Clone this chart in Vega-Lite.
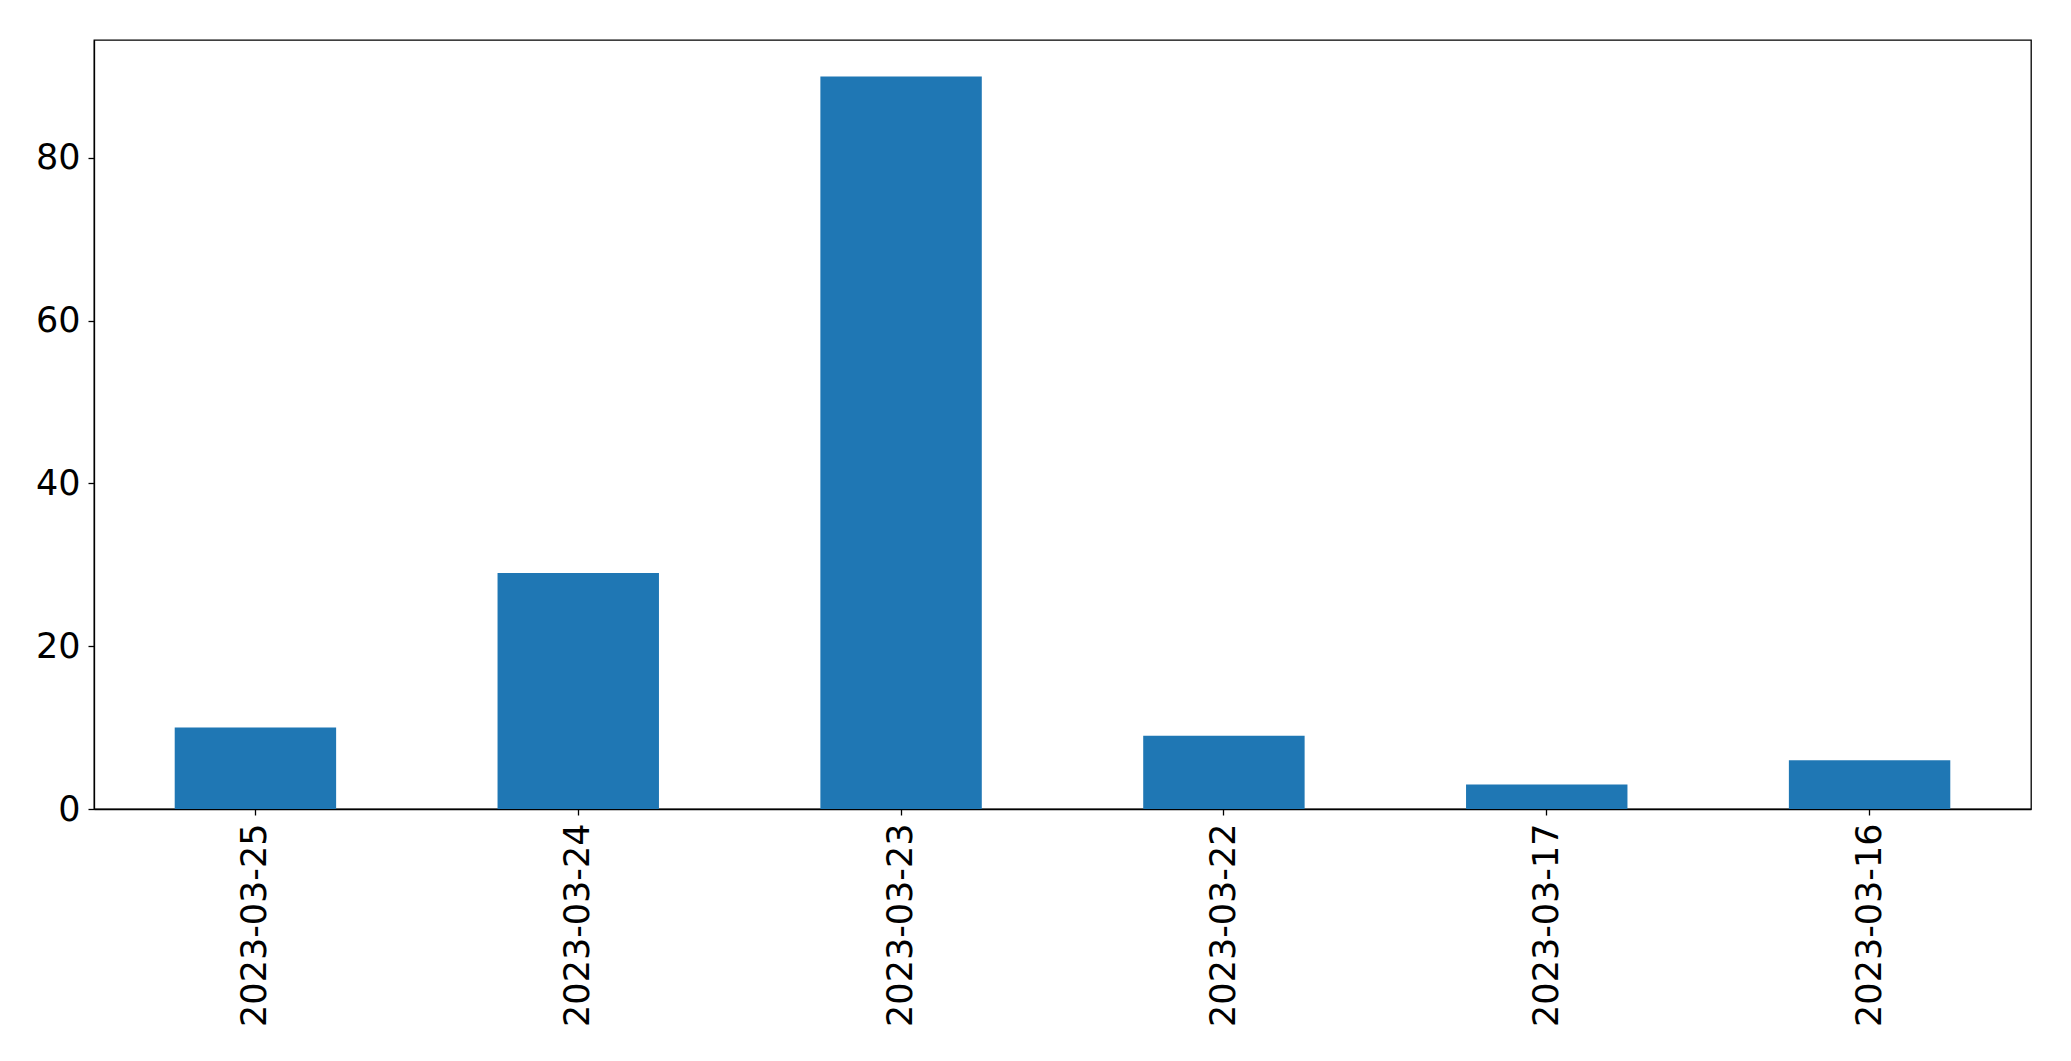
{
  "$schema": "https://vega.github.io/schema/vega-lite/v6.json",
  "width": 1937,
  "height": 769,
  "autosize": "none",
  "padding": {"left": 94, "top": 40, "right": 40, "bottom": 252},
  "background": "white",
  "config": {
    "view": {"stroke": "black", "strokeWidth": 1.3},
    "font": "DejaVu Sans",
    "axis": {"labelFont": "DejaVu Sans", "labelColor": "black", "tickColor": "black", "domainColor": "black", "grid": false, "tickSize": 6, "tickWidth": 1.3, "domainWidth": 1.3, "labelLimit": 0}
  },
  "data": {
    "values": [
      {"date": "2023-03-25", "count": 10},
      {"date": "2023-03-24", "count": 29},
      {"date": "2023-03-23", "count": 90},
      {"date": "2023-03-22", "count": 9},
      {"date": "2023-03-17", "count": 3},
      {"date": "2023-03-16", "count": 6}
    ]
  },
  "mark": {"type": "bar", "color": "#1f77b4"},
  "encoding": {
    "x": {
      "field": "date", "type": "nominal", "sort": null,
      "scale": {"paddingInner": 0.5, "paddingOuter": 0.25},
      "axis": {"title": null, "labelAngle": -90, "labelPadding": 8, "labelFontSize": 35, "labelLimit": 0}
    },
    "y": {
      "field": "count", "type": "quantitative",
      "scale": {"domain": [0, 94.5], "nice": false},
      "axis": {"title": null, "values": [0, 20, 40, 60, 80], "labelPadding": 8, "labelFontSize": 35, "labelLimit": 0}
    }
  }
}
